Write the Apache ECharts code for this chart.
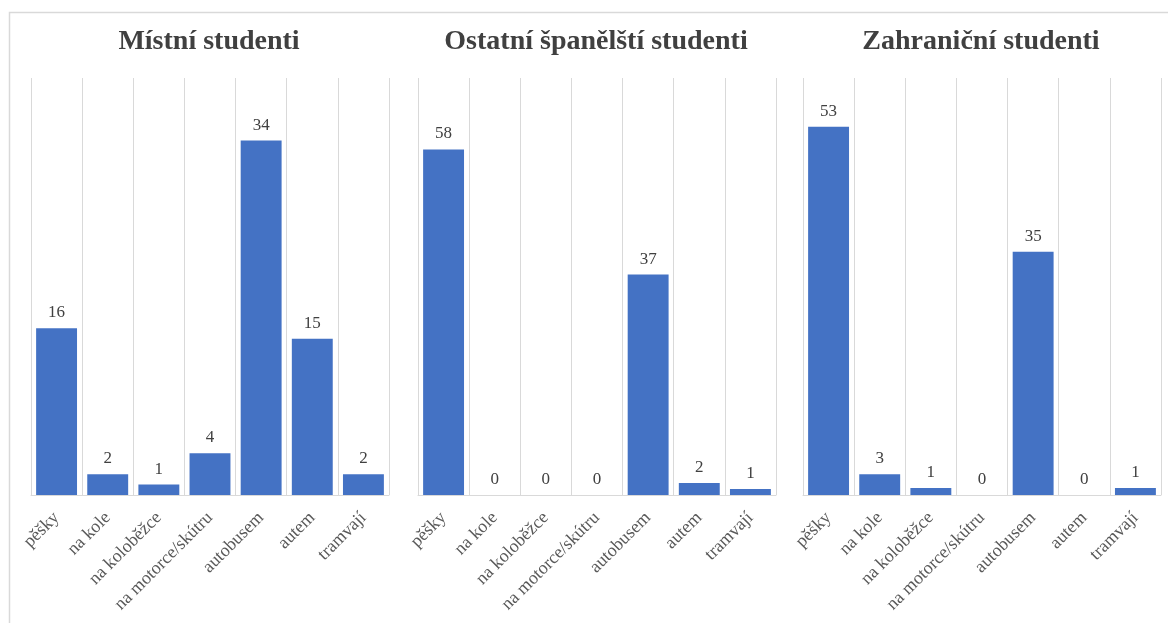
<!DOCTYPE html>
<html>
<head>
<meta charset="utf-8">
<script src="https://cdn.jsdelivr.net/npm/echarts@6/dist/echarts.min.js"></script>
<style>html,body{margin:0;padding:0;background:#fff;}#c{width:1168px;height:623px;}</style>
</head>
<body>
<div id="c"></div>
<script>
const categories = ['pěšky', 'na kole', 'na koloběžce', 'na motorce/skútru', 'autobusem', 'autem', 'tramvají'];
const titles = ['Místní studenti', 'Ostatní španělští studenti', 'Zahraniční studenti'];
const localValues = [16, 2, 1, 4, 34, 15, 2];
const spanishValues = [58, 0, 0, 0, 37, 2, 1];
const foreignValues = [53, 3, 1, 0, 35, 0, 1];
const axisMax = [40, 70, 60];

const seriesData = [localValues, spanishValues, foreignValues];
const lefts = [31, 418, 803];
const font = 'Liberation Serif, serif';

const chart = echarts.init(document.getElementById('c'));
const option = {
  backgroundColor: '#fff',
  animation: false,
  graphic: [{
    type: 'rect', left: 7, top: 10, silent: true,
    shape: { width: 1200, height: 700 },
    style: { fill: 'none', stroke: '#d9d9d9', lineWidth: 1.5 }
  }],
  title: titles.map((t, i) => ({
    text: t,
    left: lefts[i] + 173, top: 23, textAlign: 'center',
    textStyle: { fontFamily: font, fontSize: 28, fontWeight: 'bold', color: '#404040' }
  })),
  grid: lefts.map(l => ({ left: l, width: 358, top: 78, height: 417, containLabel: false })),
  xAxis: lefts.map((l, i) => ({
    type: 'category', gridIndex: i, data: categories,
    axisLine: { show: true, lineStyle: { color: '#d9d9d9', width: 1 } },
    axisTick: { show: false },
    splitLine: { show: true, lineStyle: { color: '#d9d9d9', width: 1 } },
    axisLabel: { rotate: 45, interval: 0, margin: 20, fontFamily: font, fontSize: 18, color: '#595959' }
  })),
  yAxis: lefts.map((l, i) => ({
    type: 'value', gridIndex: i, min: 0, max: axisMax[i],
    show: false, splitLine: { show: false }
  })),
  series: seriesData.map((d, i) => ({
    type: 'bar', xAxisIndex: i, yAxisIndex: i, data: d,
    barCategoryGap: '20%',
    itemStyle: { color: '#4472C4' },
    label: { show: true, position: 'top', distance: 7, fontFamily: font, fontSize: 17, color: '#404040' }
  }))
};
chart.setOption(option);
</script>
</body>
</html>
